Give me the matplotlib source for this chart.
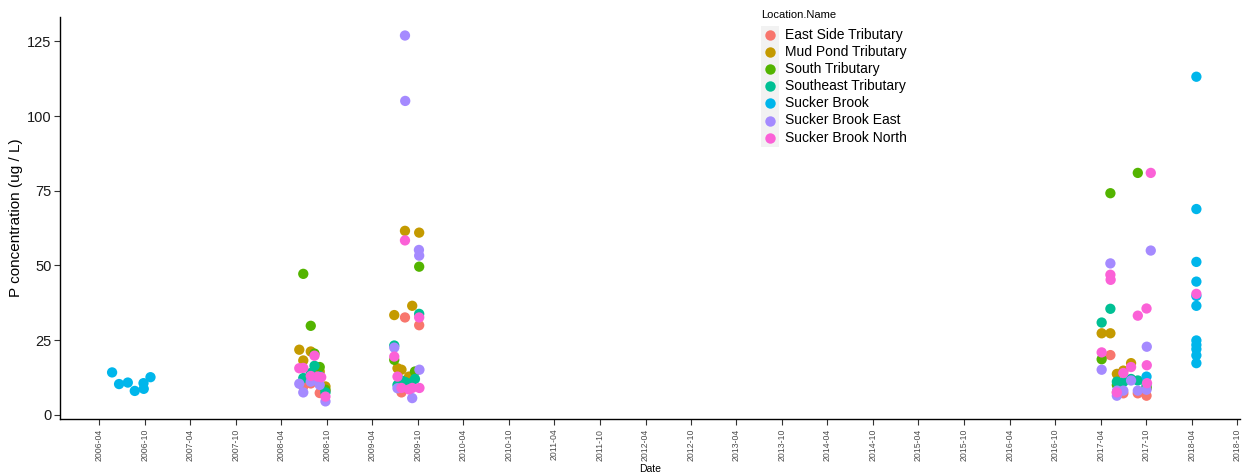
import matplotlib
matplotlib.use("Agg")
import matplotlib.pyplot as plt
import matplotlib.dates as mdates
from matplotlib.lines import Line2D
from matplotlib.patches import Rectangle
import datetime as dt
import numpy as np

plt.rcParams['font.family'] = ['Liberation Sans', 'DejaVu Sans']

locations = ["East Side Tributary", "Mud Pond Tributary", "South Tributary",
             "Southeast Tributary", "Sucker Brook", "Sucker Brook East",
             "Sucker Brook North"]
colors = ["#F8766D", "#C49A00", "#53B400", "#00C094", "#00B6EB", "#A58AFF", "#FB61D7"]

east_side_dates = ["2008-06-28", "2008-07-28", "2008-09-02", "2008-09-25",
                   "2009-07-27", "2009-08-10", "2009-08-26", "2009-10-06",
                   "2017-05-10", "2017-06-05", "2017-07-01", "2017-08-28", "2017-10-02"]
east_side_vals = [9.5, 10.5, 7.3, 8.0,
                  7.5, 32.6, 10.0, 30.0,
                  20.0, 7.5, 7.2, 7.2, 6.4]

mud_pond_dates = ["2008-06-12", "2008-06-28", "2008-07-28", "2008-09-02", "2008-09-25",
                  "2009-06-28", "2009-07-11", "2009-07-27", "2009-08-10", "2009-08-26",
                  "2009-09-08", "2009-10-06",
                  "2017-04-05", "2017-05-10", "2017-06-05", "2017-07-01", "2017-08-01",
                  "2017-10-02"]
mud_pond_vals = [21.8, 18.2, 21.2, 14.5, 9.5,
                 33.4, 15.6, 15.1, 61.6, 12.8,
                 36.5, 61.0,
                 27.3, 27.3, 13.7, 14.8, 17.3,
                 9.0]

south_dates = ["2008-06-28", "2008-07-28", "2008-08-12", "2008-09-02", "2008-09-25",
               "2009-06-28", "2009-07-27", "2009-08-10", "2009-09-19", "2009-10-06",
               "2017-04-05", "2017-05-10", "2017-06-05", "2017-08-28", "2017-10-02"]
south_vals = [47.2, 29.8, 20.5, 16.0, 8.4,
              18.4, 11.0, 10.0, 14.5, 49.6,
              18.6, 74.2, 10.0, 81.0, 9.0]

southeast_dates = ["2008-06-28", "2008-07-28", "2008-08-12", "2008-09-02", "2008-09-25",
                   "2009-06-28", "2009-07-11", "2009-07-27", "2009-08-10", "2009-08-26",
                   "2009-09-19", "2009-10-06",
                   "2017-04-05", "2017-05-10", "2017-06-05", "2017-07-01", "2017-08-01",
                   "2017-08-28", "2017-10-02"]
southeast_vals = [12.3, 14.0, 16.4, 13.0, 7.5,
                  23.2, 10.0, 11.5, 11.0, 10.5,
                  12.0, 33.8,
                  30.9, 35.5, 11.1, 11.0, 12.0,
                  11.5, 10.0]

sucker_dates = ["2006-05-23", "2006-06-20", "2006-07-25", "2006-08-22", "2006-09-26",
                "2006-09-27", "2006-10-24",
                "2017-10-02",
                "2018-04-20", "2018-04-20", "2018-04-20", "2018-04-20", "2018-04-20",
                "2018-04-20", "2018-04-20", "2018-04-20", "2018-04-20", "2018-04-20",
                "2018-04-20"]
sucker_vals = [14.2, 10.3, 10.8, 8.0, 10.6,
               8.7, 12.6,
               12.8,
               113.2, 68.9, 51.2, 44.6, 39.8,
               36.5, 24.9, 23.4, 22.0, 19.9,
               17.3]

sb_east_dates = ["2008-06-12", "2008-06-28", "2008-07-28", "2008-08-12", "2008-09-02",
                 "2008-09-25",
                 "2009-06-28", "2009-07-11", "2009-08-10", "2009-08-11", "2009-09-08",
                 "2009-10-05", "2009-10-06", "2009-10-07",
                 "2017-04-05", "2017-05-10", "2017-06-05", "2017-06-06", "2017-07-01",
                 "2017-08-01", "2017-08-28", "2017-10-02", "2017-10-03", "2017-10-19"]
sb_east_vals = [10.4, 7.5, 11.1, 12.0, 10.0,
                4.5,
                22.5, 8.9, 127.0, 105.1, 5.6,
                55.2, 53.3, 15.1,
                15.1, 50.7, 6.4, 8.1, 8.1,
                11.5, 8.1, 8.4, 22.8, 55.0]

sb_north_dates = ["2008-06-12", "2008-06-28", "2008-07-28", "2008-08-12", "2008-08-25",
                  "2008-09-08", "2008-09-25",
                  "2009-06-28", "2009-07-11", "2009-07-27", "2009-08-10", "2009-08-26",
                  "2009-09-08", "2009-10-06", "2009-10-07",
                  "2017-04-05", "2017-05-10", "2017-05-11", "2017-06-05", "2017-07-01",
                  "2017-08-01", "2017-08-28", "2017-10-02", "2017-10-03", "2017-10-04",
                  "2017-10-19",
                  "2018-04-20"]
sb_north_vals = [15.6, 15.7, 13.0, 19.8, 12.8,
                 12.6, 6.1,
                 19.5, 12.8, 9.0, 58.4, 8.5,
                 9.0, 32.6, 9.0,
                 20.9, 46.9, 45.2, 7.5, 14.0,
                 16.0, 33.2, 35.6, 16.6, 10.6,
                 81.0,
                 40.5]

series_dates = [east_side_dates, mud_pond_dates, south_dates, southeast_dates,
                sucker_dates, sb_east_dates, sb_north_dates]
series_vals = [east_side_vals, mud_pond_vals, south_vals, southeast_vals,
               sucker_vals, sb_east_vals, sb_north_vals]

fig = plt.figure(figsize=(12.43, 4.72), dpi=100)
ax = fig.add_axes([60/1243, 1 - 419/472, 1180/1243, 402/472])

for name, col, ds, vs in zip(locations, colors, series_dates, series_vals):
    x = [dt.datetime.strptime(d, "%Y-%m-%d") for d in ds]
    ax.scatter(x, vs, s=55, color=col, edgecolors='none', zorder=3)

ax.set_xlim(dt.datetime(2005, 10, 26), dt.datetime(2018, 10, 12))
ax.set_ylim(-1.4, 133.2)

ticks = []
for y in range(2006, 2019):
    for m in (4, 10):
        ticks.append(dt.datetime(y, m, 1))
ax.set_xticks(ticks)
ax.xaxis.set_major_formatter(mdates.DateFormatter("%Y-%m"))
ax.set_yticks([0, 25, 50, 75, 100, 125])

for s in ['top', 'right']:
    ax.spines[s].set_visible(False)
for s in ['left', 'bottom']:
    ax.spines[s].set_color('black')
    ax.spines[s].set_linewidth(1.0)

ax.tick_params(axis='x', labelsize=6.3, labelrotation=90, colors='#333333',
               length=4, width=0.8, pad=3, labelcolor='#4d4d4d')
ax.tick_params(axis='y', labelsize=10.5, colors='#333333', length=4, width=0.8, pad=2,
               labelcolor='#1a1a1a')
ax.set_xlabel("Date", fontsize=7.5, labelpad=2)
ax.set_ylabel("P concentration (ug / L)", fontsize=11, labelpad=3)

# legend (manual)
fig.text(761/1243, 1 - 15/472, "Location.Name", fontsize=8, ha='left', va='center')
fig.patches.append(Rectangle((761/1243, 1 - 147/472), 18/1243, 121/472,
                             transform=fig.transFigure, facecolor='#F2F2F2',
                             edgecolor='none', zorder=1))
for i, (name, col) in enumerate(zip(locations, colors)):
    yy = 1 - (35 + 17.1 * i) / 472
    fig.lines.append(Line2D([770/1243], [yy], marker='o', markersize=7.5, color=col,
                            markeredgecolor='none', linestyle='none',
                            transform=fig.transFigure, zorder=2))
    fig.text(785/1243, yy, name, fontsize=10, ha='left', va='center')

fig.savefig("out.png", dpi=100)
